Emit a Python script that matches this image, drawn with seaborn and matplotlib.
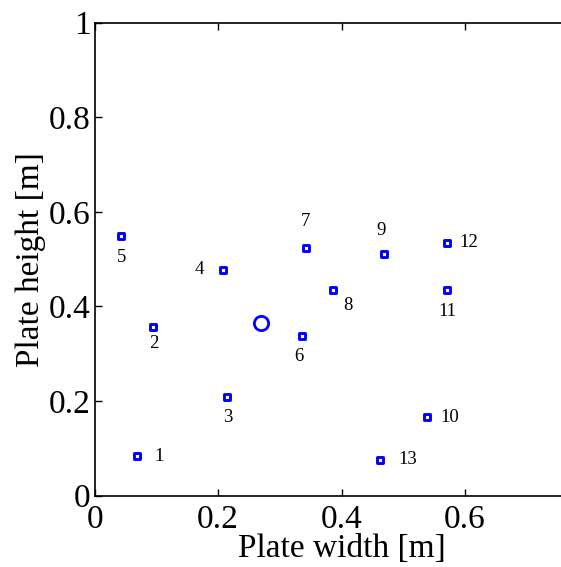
import matplotlib
matplotlib.use("Agg")
import matplotlib.pyplot as plt
import seaborn as sns
import pandas as pd

# Data
plate_ids = ["1", "2", "3", "4", "5", "6", "7", "8", "9", "10", "11", "12", "13"]
plate_width = [0.069, 0.095, 0.215, 0.208, 0.043, 0.336, 0.342, 0.386, 0.469, 0.539, 0.571, 0.571, 0.463]
plate_height = [0.083, 0.357, 0.209, 0.478, 0.548, 0.338, 0.523, 0.434, 0.510, 0.166, 0.434, 0.535, 0.076]
center_x = [0.269]
center_y = [0.366]
x_ticks = [0, 0.2, 0.4, 0.6]
x_ticklabels = ["0", "0.2", "0.4", "0.6"]
y_ticks = [0, 0.2, 0.4, 0.6, 0.8, 1.0]
y_ticklabels = ["0", "0.2", "0.4", "0.6", "0.8", "1"]

# label offsets in points (style)
label_offsets = [(16, 0), (0, -12), (0, -15), (-17, 0), (0, -15), (-2, -15),
                 (0, 19), (11, -11), (-2, 17), (16, 0), (0, -15), (16, 0), (20, 0)]

sns.set_style("white")
plt.rcParams["font.family"] = ["Liberation Serif", "DejaVu Serif"]
plt.rcParams["text.color"] = "black"
plt.rcParams["axes.labelcolor"] = "black"
plt.rcParams["xtick.color"] = "black"
plt.rcParams["ytick.color"] = "black"

fig = plt.figure(figsize=(5.61, 5.67), dpi=100)
ax = fig.add_axes([94.8 / 561, 71.3 / 567, 493.4 / 561, 473.2 / 567])

df = pd.DataFrame({"w": plate_width, "h": plate_height, "id": plate_ids})
sns.scatterplot(data=df, x="w", y="h", ax=ax, marker="s", s=17,
                facecolor="white", edgecolor="#0000ff", linewidth=2.1, zorder=3)
dc = pd.DataFrame({"w": center_x, "h": center_y})
sns.scatterplot(data=dc, x="w", y="h", ax=ax, marker="o", s=105,
                facecolor="white", edgecolor="#0000ff", linewidth=2.0, zorder=3)

for xi, yi, lab, (dx, dy) in zip(plate_width, plate_height, plate_ids, label_offsets):
    ax.annotate(lab, (xi, yi), xytext=(dx, dy), textcoords="offset points",
                ha="center", va="center", fontsize=13.5, color="black")

ax.set_xlim(0, 0.8)
ax.set_ylim(0, 1)
ax.set_xticks(x_ticks)
ax.set_xticklabels(x_ticklabels)
ax.set_yticks(y_ticks)
ax.set_yticklabels(y_ticklabels)
ax.tick_params(axis="both", direction="in", length=5, width=1, labelsize=24,
               top=True, bottom=True, left=True, right=True, pad=3,
               colors="black")
ax.tick_params(axis="x", pad=6.5)
for sp in ax.spines.values():
    sp.set_color("black")
    sp.set_linewidth(1.2)
ax.set_xlabel("Plate width [m]", fontsize=24, labelpad=-1, color="black")
ax.set_ylabel("Plate height [m]", fontsize=24, labelpad=2, color="black")

fig.savefig("out.png", dpi=100)
